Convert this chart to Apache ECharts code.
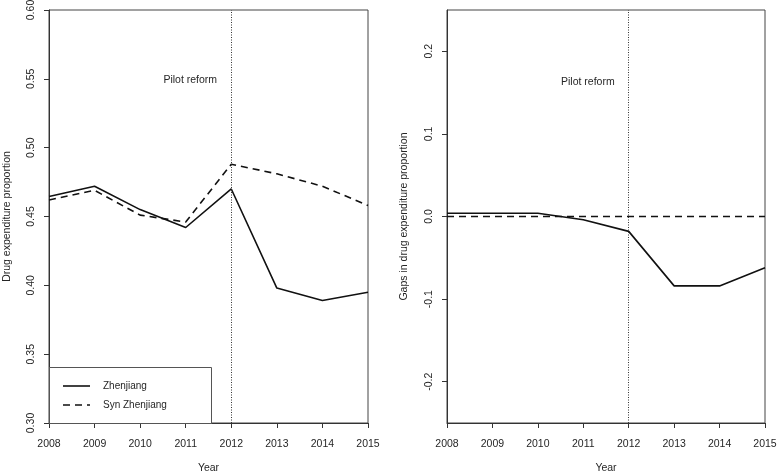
<!DOCTYPE html>
<html><head><meta charset="utf-8">
<script src="https://cdn.jsdelivr.net/npm/echarts@6/dist/echarts.min.js"></script>
<style>html,body{margin:0;padding:0;background:#fff}#c{width:778px;height:473px}</style>
</head><body><div id="c"></div>
<script>
const years = [2008, 2009, 2010, 2011, 2012, 2013, 2014, 2015];
const zhenjiang = [0.4645, 0.472, 0.455, 0.442, 0.470, 0.398, 0.389, 0.395];
const synZhenjiang = [0.462, 0.469, 0.451, 0.446, 0.488, 0.481, 0.472, 0.458];
const gaps = [0.004, 0.004, 0.004, -0.004, -0.018, -0.084, -0.084, -0.062];
const zeroLine = [0, 0, 0, 0, 0, 0, 0, 0];
const leftTicks = [0.30, 0.35, 0.40, 0.45, 0.50, 0.55, 0.60];
const rightTicks = [-0.2, -0.1, 0.0, 0.1, 0.2];
const reformYear = 2012;
const annotation = 'Pilot reform';
const legendNames = ['Zhenjiang', 'Syn Zhenjiang'];

const pair = (ys) => years.map((y, i) => [y, ys[i]]);
const FONT = 'Liberation Sans, Arial, sans-serif';
const txt = '#262626';
const FS = 10.5;

const chart = echarts.init(document.getElementById('c'), null, {renderer: 'canvas'});

function xAxisCfg(gi) {
  return {
    type: 'value', gridIndex: gi, min: 2008, max: 2015, interval: 1,
    name: 'Year', nameLocation: 'middle', nameGap: 40,
    nameTextStyle: {color: txt, fontSize: FS, fontFamily: FONT},
    axisLine: {show: true, onZero: false, lineStyle: {color: '#333', width: 1}},
    axisTick: {show: true, inside: false, length: 5, lineStyle: {color: '#333'}},
    axisLabel: {color: txt, fontSize: FS, fontFamily: FONT, margin: 16, formatter: v => String(v)},
    splitLine: {show: false}
  };
}

const markLineCfg = {
  silent: true, symbol: 'none', animation: false,
  label: {show: false},
  lineStyle: {color: '#333', width: 1, type: [1, 1.5]},
  data: [{xAxis: reformYear}]
};

function annot(x, y) {
  return {
    silent: true, animation: false, symbol: 'rect', symbolSize: [1, 1],
    itemStyle: {color: 'rgba(0,0,0,0)'},
    label: {show: true, position: 'inside', formatter: annotation, color: txt, fontSize: FS, fontFamily: FONT},
    data: [{coord: [x, y]}]
  };
}

const option = {
  animation: false,
  backgroundColor: '#fff',
  grid: [
    {left: 49, top: 10, width: 319, height: 413, show: true, borderColor: '#444', borderWidth: 1, outerBoundsMode: 'none', containLabel: false},
    {left: 447, top: 10, width: 318, height: 413, show: true, borderColor: '#444', borderWidth: 1, outerBoundsMode: 'none', containLabel: false}
  ],
  xAxis: [xAxisCfg(0), xAxisCfg(1)],
  yAxis: [
    {
      type: 'value', gridIndex: 0, min: 0.30, max: 0.60, interval: 0.05,
      name: 'Drug expenditure proportion', nameLocation: 'middle', nameGap: 36, nameRotate: 90,
      nameTextStyle: {color: txt, fontSize: FS, fontFamily: FONT},
      axisLine: {show: true, onZero: false, lineStyle: {color: '#333'}},
      axisTick: {show: true, length: 5, lineStyle: {color: '#333'}},
      axisLabel: {color: txt, fontSize: FS, fontFamily: FONT, rotate: 90, margin: 12,
        customValues: leftTicks, formatter: v => v.toFixed(2)},
      splitLine: {show: false}
    },
    {
      type: 'value', gridIndex: 1, min: -0.25, max: 0.25,
      name: 'Gaps in drug expenditure proportion', nameLocation: 'middle', nameGap: 37, nameRotate: 90,
      nameTextStyle: {color: txt, fontSize: FS, fontFamily: FONT},
      axisLine: {show: true, onZero: false, lineStyle: {color: '#333'}},
      axisTick: {show: true, length: 5, lineStyle: {color: '#333'}, customValues: rightTicks},
      axisLabel: {color: txt, fontSize: FS, fontFamily: FONT, rotate: 90, margin: 12,
        customValues: rightTicks, formatter: v => (Math.abs(v) < 1e-9 ? '0.0' : v.toFixed(1))},
      splitLine: {show: false}
    }
  ],
  series: [
    {
      name: legendNames[0], type: 'line', xAxisIndex: 0, yAxisIndex: 0, data: pair(zhenjiang),
      showSymbol: false, symbol: 'none', lineStyle: {color: '#111', width: 1.6, type: 'solid'},
      markLine: markLineCfg, markPoint: annot(2011.1, 0.549), z: 3
    },
    {
      name: legendNames[1], type: 'line', xAxisIndex: 0, yAxisIndex: 0, data: pair(synZhenjiang),
      showSymbol: false, symbol: 'none', lineStyle: {color: '#111', width: 1.6, type: [7, 5]}, z: 3
    },
    {
      name: 'Gap', type: 'line', xAxisIndex: 1, yAxisIndex: 1, data: pair(gaps),
      showSymbol: false, symbol: 'none', lineStyle: {color: '#111', width: 1.6, type: 'solid'},
      markLine: markLineCfg, markPoint: annot(2011.1, 0.163), z: 3
    },
    {
      name: 'Zero', type: 'line', xAxisIndex: 1, yAxisIndex: 1, data: pair(zeroLine),
      showSymbol: false, symbol: 'none', lineStyle: {color: '#111', width: 1.6, type: [7, 5]}, z: 3
    }
  ],
  graphic: [
    {type: 'rect', left: 49, top: 367, shape: {width: 162, height: 56}, style: {fill: '#fff', stroke: '#555', lineWidth: 1}, z: 10},
    {type: 'line', shape: {x1: 63, y1: 386, x2: 90, y2: 386}, style: {stroke: '#111', lineWidth: 1.6}, z: 11},
    {type: 'line', shape: {x1: 63, y1: 405, x2: 90, y2: 405}, style: {stroke: '#111', lineWidth: 1.6, lineDash: [7, 5]}, z: 11},
    {type: 'text', x: 103, y: 386, style: {text: legendNames[0], fill: txt, fontSize: 10, fontFamily: FONT, verticalAlign: 'middle'}, z: 11},
    {type: 'text', x: 103, y: 405, style: {text: legendNames[1], fill: txt, fontSize: 10, fontFamily: FONT, verticalAlign: 'middle'}, z: 11}
  ]
};
chart.setOption(option);
</script>
</body></html>
